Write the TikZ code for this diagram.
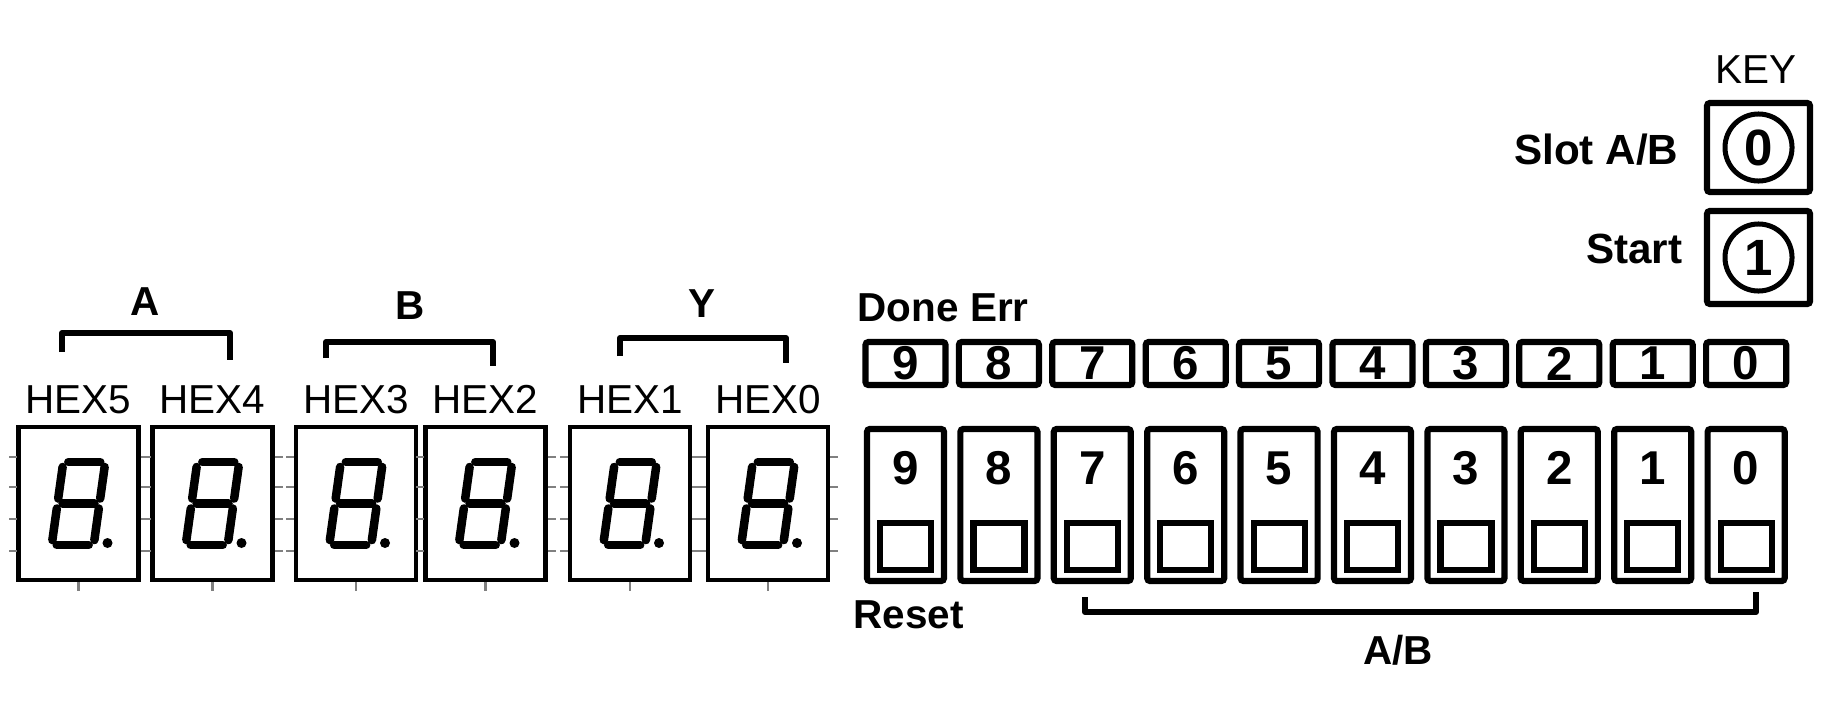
\documentclass[tikz,border=0pt]{standalone}
\usepackage{fontspec}
\setmainfont{Liberation Sans}
\usetikzlibrary{calc}
\usetikzlibrary{positioning}

\newcommand\lblfont{\fontsize{11.5}{13}\selectfont\bfseries}
\newcommand\keylblfont{\fontsize{12}{14}\selectfont\bfseries}
\newcommand\hexfont{\fontsize{11.5}{13}\selectfont}
\newcommand\digfont{\fontsize{13.5}{15}\selectfont\bfseries}
\newcommand\keyfont{\fontsize{14.5}{16}\selectfont\bfseries}

\tikzset{
  hexbox/.style={draw,line width=0.045cm,minimum width=1.2cm,minimum height=1.53cm,inner sep=0},
  seg/.style={line width=0.085cm,line cap=round,shorten <=0.05cm,shorten >=0.05cm},
  pin/.style={gray,line width=0.025cm},
  brace/.style={line width=0.06cm,line join=round},
  ledbox/.style={draw,line width=0.062cm,rounded corners=0.03cm,minimum width=0.8cm,minimum height=0.43cm,inner sep=0,font=\digfont},
  swbox/.style={draw,line width=0.062cm,rounded corners=0.03cm,minimum width=0.77cm,minimum height=1.52cm,inner sep=0},
  swknob/.style={draw,line width=0.062cm,minimum width=0.51cm,minimum height=0.47cm,inner sep=0},
  keybox/.style={draw,line width=0.062cm,rounded corners=0.03cm,minimum width=1.03cm,inner sep=0},
  lbl/.style={inner sep=0,font=\lblfont},
  keylbl/.style={inner sep=0,font=\keylblfont},
  hexlbl/.style={inner sep=0,font=\hexfont},
}

\newcommand\hexdigit[1]{%
  \begin{scope}[shift={(#1,503.5)},xslant=0.14]
    \draw[seg] (-21,-41.5) -- (21,-41.5);
    \draw[seg] (-21,0) -- (21,0);
    \draw[seg] (-21,41.5) -- (21,41.5);
    \draw[seg] (-21,-41.5) -- (-21,0);
    \draw[seg] (-21,0) -- (-21,41.5);
    \draw[seg] (21,-41.5) -- (21,0);
    \draw[seg] (21,0) -- (21,41.5);
  \end{scope}}

\begin{document}
\begin{tikzpicture}[x=0.01cm,y=-0.01cm]
\useasboundingbox (0,0) rectangle (1834,700);

\foreach \n/\cx in {5/78.5,4/212.5,3/356,2/485.5,1/630,0/768}{
  \node[hexbox] (hex\n) at (\cx,503.5) {};
  \node[hexlbl,anchor=base] (hexlbl\n) at (\cx,413) {HEX\n};
  \hexdigit{\cx}
  \fill (\cx+29,543) circle[radius=0.05cm];
  \foreach \ty in {457,487,519,551}{
    \draw[pin] (\cx-62,\ty) -- ++(-8,0);
    \draw[pin] (\cx+62,\ty) -- ++(8,0);
  }
  \draw[pin] (hex\n.south) -- ++(0,9);
}

\draw[brace] (62,352) -- (62,333) -- (230,333) -- (230,360);
\draw[brace] (326,358) -- (326,342) -- (493,342) -- (493,366);
\draw[brace] (620,356) -- (620,338) -- (786,338) -- (786,363);
\node[lbl,anchor=base] (labA) at (145,315) {A};
\node[lbl,anchor=base] (labB) at (410,319) {B};
\node[lbl,anchor=base] (labY) at (702,317) {Y};

\foreach \k [count=\i from 0] in {9,8,...,0}{
  \node[ledbox] (led\k) at (905.5+93.4*\i,363.5) {\k};
  \node[swbox] (sw\k) at (905.5+93.4*\i,505) {};
  \node[font=\digfont,inner sep=0] (swnum\k) at ($(sw\k.center)+(0,-37)$) {\k};
  \node[swknob] (knob\k) at ($(sw\k.center)+(0,41.5)$) {};
}
\node[lbl,anchor=base west] (doneerr) at (857,321) {Done Err};
\node[lbl,anchor=base west] (reset) at (853,628) {Reset};
\draw[brace] (1085,597) -- (1085,612) -- (1756,612) -- (1756,592);
\node[lbl,anchor=base] (ab) at (1398,664) {A/B};

\node[hexlbl,anchor=base] (keylbl) at (1756,83) {KEY};
\node[keybox,minimum height=0.89cm] (key0) at (1758.5,147.5) {};
\node[keybox,minimum height=0.93cm] (key1) at (1758.5,257.5) {};
\draw[line width=0.05cm] (key0.center) circle[radius=0.335cm];
\draw[line width=0.05cm] (key1.center) circle[radius=0.335cm];
\node[font=\keyfont,inner sep=0] (keynum0) at (key0.center) {0};
\node[font=\keyfont,inner sep=0] (keynum1) at (key1.center) {1};
\node[keylbl,anchor=base east] (slot) at (1679,164) {Slot A/B};
\node[keylbl,anchor=base east] (start) at (1683,263) {Start};
\end{tikzpicture}
\end{document}
